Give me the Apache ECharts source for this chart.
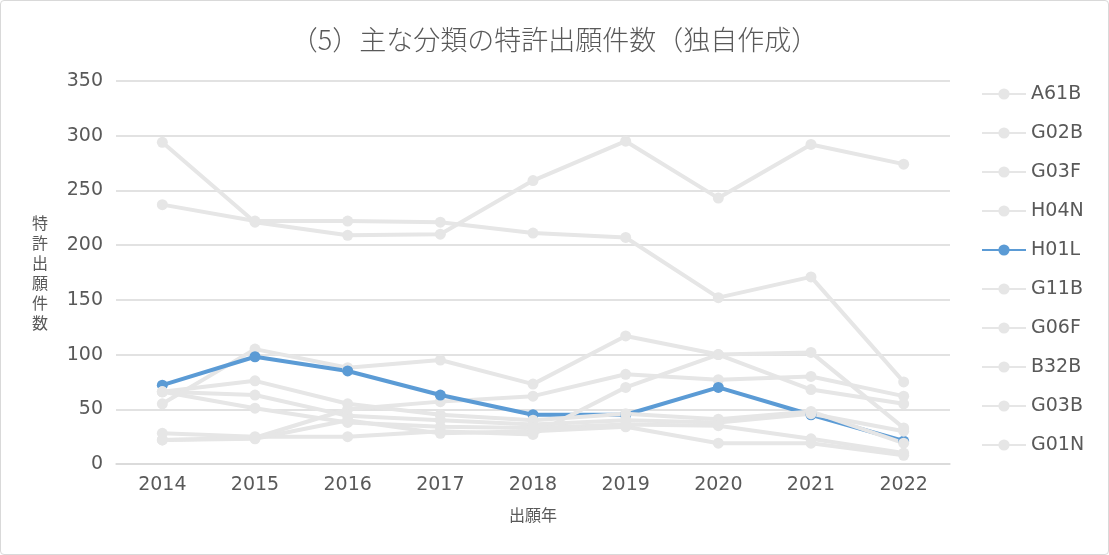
<!DOCTYPE html>
<html>
<head>
<meta charset="utf-8">
<script src="https://cdn.jsdelivr.net/npm/echarts@6/dist/echarts.min.js"></script>
<style>
html,body{margin:0;padding:0;background:#fff;}
#wrap{position:absolute;left:0;top:0;width:1107px;height:553px;border:1px solid #d9d9d9;border-radius:4px;background:#fff;}
#chart{width:1107px;height:553px;}
</style>
</head>
<body>
<div id="wrap"><div id="chart"></div></div>
<script>
const years = ['2014','2015','2016','2017','2018','2019','2020','2021','2022'];
const seriesNames = ['A61B','G02B','G03F','H04N','H01L','G11B','G06F','B32B','G03B','G01N'];
const A61B = [294, 221, 209, 210, 259, 295, 243, 292, 274];
const G02B = [237, 222, 222, 221, 211, 207, 152, 171, 75];
const G03F = [55, 105, 88, 95, 73, 117, 100, 68, 55];
const H04N = [22, 24, 50, 57, 62, 82, 77, 80, 62];
const H01L = [72, 98, 85, 63, 45, 45, 70, 45, 21];
const G11B = [28, 25, 25, 30, 27, 70, 100, 102, 33];
const G06F = [66, 76, 55, 45, 40, 46, 41, 48, 19];
const B32B = [66, 63, 44, 40, 36, 40, 38, 46, 30];
const G03B = [66, 51, 38, 34, 33, 36, 35, 23, 10];
const G01N = [22, 23, 40, 28, 30, 34, 19, 19, 8];
const seriesValues = [A61B, G02B, G03F, H04N, H01L, G11B, G06F, B32B, G03B, G01N];
const highlight = 'H01L';

const jp = '"Noto Sans CJK JP", "Noto Sans", sans-serif';
const num = '"DejaVu Sans ExtraLight", "DejaVu Sans", sans-serif';
const chart = echarts.init(document.getElementById('chart'));
chart.setOption({
  animation: false,
  title: {
    text: '（5）主な分類の特許出願件数（独自作成）',
    left: 'center', top: 20,
    textStyle: {fontFamily: jp, fontSize: 27, fontWeight: 300, color: '#595959'}
  },
  legend: {
    orient: 'vertical', left: 980, top: 83, itemGap: 19, padding: 0,
    itemWidth: 44, itemHeight: 14,
    textStyle: {fontFamily: num, fontSize: 19, lineHeight: 20, color: '#595959'},
    data: seriesNames
  },
  grid: {left: 115, right: 158, top: 80, bottom: 90, containLabel: false},
  xAxis: {
    type: 'category', data: years, boundaryGap: true,
    name: '出願年', nameLocation: 'middle', nameGap: 43,
    nameTextStyle: {fontFamily: jp, fontSize: 16, color: '#595959'},
    axisLine: {lineStyle: {color: '#d9d9d9', width: 1.5}},
    axisTick: {show: false},
    axisLabel: {fontFamily: num, fontSize: 19, color: '#595959', margin: 12}
  },
  yAxis: {
    type: 'value', min: 0, max: 350, interval: 50,
    name: '特\n許\n出\n願\n件\n数', nameLocation: 'middle', nameGap: 68, nameRotate: 0,
    nameTextStyle: {fontFamily: jp, fontSize: 16, color: '#595959', lineHeight: 20},
    axisLine: {show: false}, axisTick: {show: false},
    axisLabel: {fontFamily: num, fontSize: 19, color: '#595959', margin: 13},
    splitLine: {lineStyle: {color: '#d9d9d9', width: 1.5}}
  },
  series: seriesNames.map((n, i) => {
    const c = n === highlight ? '#5b9bd5' : '#e6e6e6';
    return {
      name: n, type: 'line', data: seriesValues[i],
      symbol: 'circle', symbolSize: 11,
      lineStyle: {color: c, width: 4},
      itemStyle: {color: c},
      z: 2
    };
  })
});
</script>
</body>
</html>
